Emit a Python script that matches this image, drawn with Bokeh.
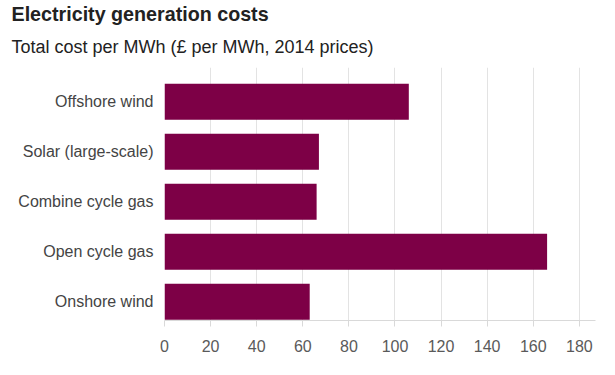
from bokeh.plotting import figure
from bokeh.models import Range1d, FixedTicker, Title, ColumnDataSource, Div
from bokeh.layouts import column
from bokeh.embed import file_html
from bokeh.resources import INLINE

categories = ["Offshore wind", "Solar (large-scale)", "Combine cycle gas", "Open cycle gas", "Onshore wind"]
costs = [106, 67, 66, 166, 63]
x_ticks = [0, 20, 40, 60, 80, 100, 120, 140, 160, 180]

n = len(categories)
ypos = [n - 1 - i for i in range(n)]
src = ColumnDataSource(dict(y=ypos, cost=costs, name=categories))

FONT = "Liberation Sans"
BAR = "#7d0046"

p = figure(width=615, height=370, x_range=Range1d(0, 187), y_range=Range1d(-0.374, n - 1 + 0.686),
           output_backend="svg", toolbar_location=None, title=None,
           min_border_left=164, min_border_right=20, min_border_top=67, min_border_bottom=50)

p.hbar(y="y", left=0, right="cost", height=0.72, source=src, fill_color=BAR, line_color=None)

p.add_layout(Title(text="Total cost per MWh (£ per MWh, 2014 prices)", text_font=FONT,
                   text_font_size="18px", text_font_style="normal", text_color="#222222",
                   align="left", offset=-153, standoff=21), "above")
p.add_layout(Title(text="Electricity generation costs", text_font=FONT,
                   text_font_size="19.7px", text_font_style="bold", text_color="#222222",
                   align="left", offset=-153, standoff=0, text_line_height=0.7), "above")

p.outline_line_color = None
p.background_fill_color = "white"
p.border_fill_color = "white"

p.xaxis.ticker = FixedTicker(ticks=x_ticks)
p.xaxis.axis_line_color = "#d9d9d9"
p.xaxis.major_tick_line_color = "#d9d9d9"
p.xaxis.major_tick_out = 6
p.xaxis.major_tick_in = 0
p.xaxis.minor_tick_line_color = None
p.xaxis.major_label_text_font = FONT
p.xaxis.major_label_text_font_size = "16px"
p.xaxis.major_label_text_color = "#5a5a5a"
p.xaxis.major_label_standoff = 13

p.yaxis.ticker = FixedTicker(ticks=ypos)
p.yaxis.major_label_overrides = {y: name for y, name in zip(ypos, categories)}
p.yaxis.axis_line_color = None
p.yaxis.major_tick_line_color = None
p.yaxis.minor_tick_line_color = None
p.yaxis.major_label_text_font = FONT
p.yaxis.major_label_text_font_size = "16px"
p.yaxis.major_label_text_color = "#444444"
p.yaxis.major_label_standoff = 5

p.xgrid.ticker = FixedTicker(ticks=x_ticks)
p.xgrid.grid_line_color = "#e3e3e3"
p.ygrid.grid_line_color = None

rule = Div(text="", width=585, height=2,
           styles={"background-color": "#555555", "margin-left": "10px"})

layout = column(p, rule, spacing=0)
open("out.html", "w").write(file_html(layout, INLINE))
